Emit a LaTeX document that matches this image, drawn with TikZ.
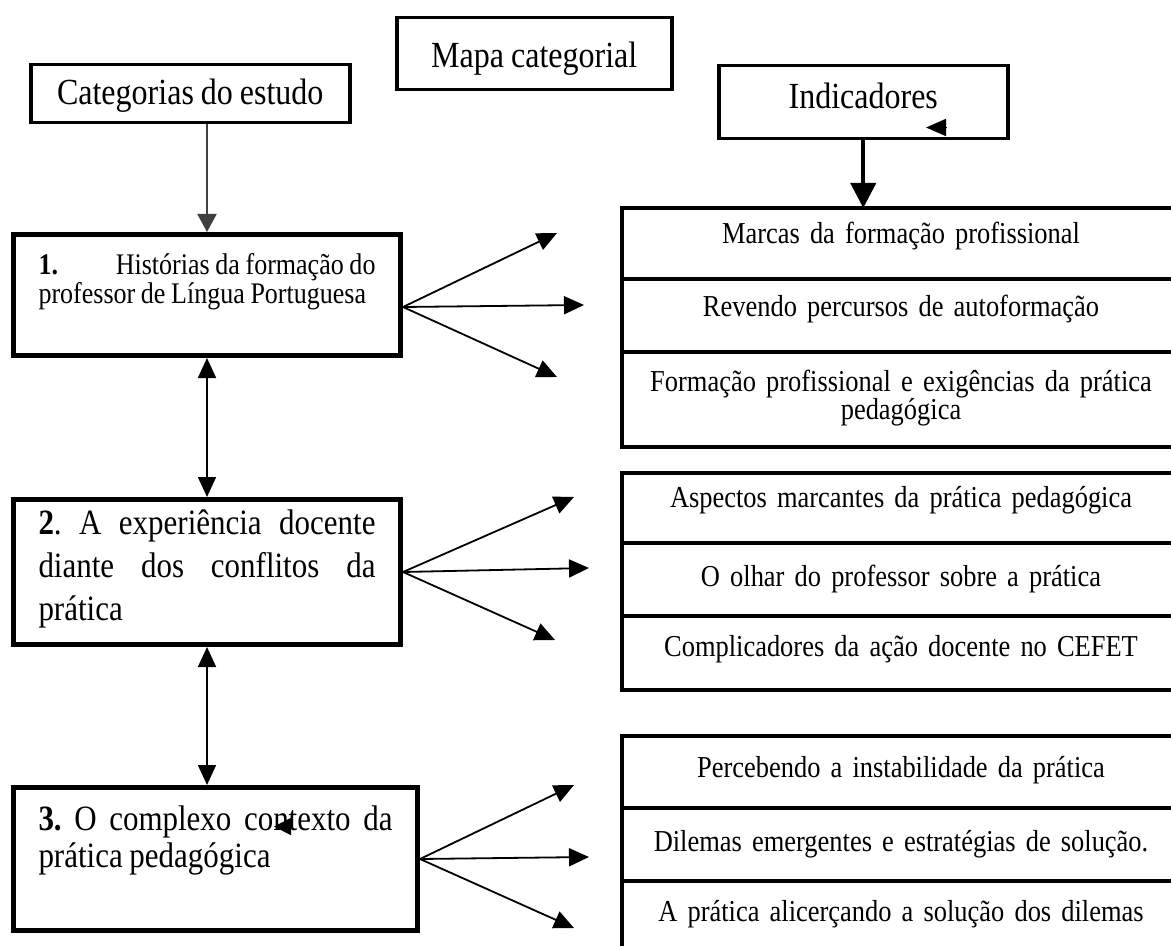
\documentclass[tikz,border=0pt]{standalone}
\usepackage{fontspec}
\setmainfont{Liberation Serif}[FakeStretch=0.87, WordSpace=0.87]
\usetikzlibrary{arrows.meta}
\definecolor{arrowgray}{RGB}{64,64,64}

\tikzset{
  topbox/.style={draw, line width=1.75pt, anchor=north west, inner ysep=0pt, font=\fontsize{18.4}{21}\selectfont},
  catbox/.style={draw, line width=2.5pt, anchor=north west, inner ysep=0pt, inner xsep=12.5pt, align=justify,
    execute at begin node={\frenchspacing\hyphenpenalty=10000 \tolerance=9999 }},
  rowbox/.style={draw, line width=2pt, anchor=north west, inner sep=0pt, outer sep=0pt, minimum width=279pt,
    text width=270pt, align=center, font=\fontsize{15.2}{14}\selectfont},
  thinarrow/.style={line width=0.9pt, -{Triangle[length=10pt,width=9pt]}},
  bothway/.style={line width=0.9pt, {Triangle[length=10pt,width=9pt]}-{Triangle[length=10pt,width=9pt]}},
}

\begin{document}
\begin{tikzpicture}[x=0.5pt, y=-0.5pt]
\useasboundingbox (0,0) rectangle (1171,946);
\clip (0,0) rectangle (1171,946);

% heads
\node [topbox, minimum width=137.5pt, text height=25pt, text depth=11pt] (mapa) at (395,16) {Mapa categorial};
\node [topbox, minimum width=159.5pt, text height=20pt, text depth=9pt] (catest) at (29,63) {Categorias do estudo};
\node [topbox, minimum width=144.5pt, text height=21.5pt, text depth=15pt] (ind) at (717,64) {Indicadores};

% categories
\node [catbox, text width=168.5pt, text height=20pt, text depth=40.5pt, font=\fontsize{14.95}{13.5}\selectfont] (cat1) at (11,232)
{\textbf{1.}\hfill Histórias da formação do\\ professor de Língua Portuguesa};
\node [catbox, text width=168.5pt, text height=17.5pt, text depth=55pt, font=\fontsize{17.8}{21.5}\selectfont] (cat2) at (11,497)
{\textbf{2}. A experiência docente diante dos conflitos da prática};
\node [catbox, text width=177pt, text height=21.5pt, text depth=50pt, font=\fontsize{17.8}{18.5}\selectfont] (cat3) at (11,785)
{\textbf{3.} O complexo contexto da prática pedagógica};

% indicators
\node [rowbox, text height=18pt, text depth=17.5pt] (r11) at (622,208) {Marcas da formação profissional};
\node [rowbox, text height=19pt, text depth=17.5pt] (r12) at (r11.south west) {Revendo percursos de autoformação};
\node [rowbox, text height=19.5pt, text depth=28pt] (r13) at (r12.south west) {Formação profissional e exigências da prática\\ pedagógica};

\node [rowbox, text height=17pt, text depth=18pt] (r21) at (622,473) {Aspectos marcantes da prática pedagógica};
\node [rowbox, text height=21.5pt, text depth=15pt] (r22) at (r21.south west) {O olhar do professor sobre a prática};
\node [rowbox, text height=20pt, text depth=17pt] (r23) at (r22.south west) {Complicadores da ação docente no CEFET};

\node [rowbox, text height=20.5pt, text depth=15.5pt] (r31) at (622,736) {Percebendo a instabilidade da prática};
\node [rowbox, text height=21.5pt, text depth=15pt] (r32) at (r31.south west) {Dilemas emergentes e estratégias de solução.};
\node [rowbox, text height=20pt, text depth=22pt] (r33) at (r32.south west) {A prática alicerçando a solução dos dilemas};

% vertical links
\draw [line width=1pt, arrowgray, -{Triangle[length=9pt,width=9.5pt]}] (catest.south -| cat1.north) -- (cat1.north);
\draw [line width=2pt, -{Triangle[length=12.5pt,width=12.5pt]}] (ind.south) -- (ind.south |- r11.north);
\draw [bothway] (cat1.south) -- (cat2.north);
\draw [bothway] (cat2.south) -- (cat2.south |- cat3.north);

% fans towards the indicators
\coordinate (o1) at ([yshift=-6pt]cat1.east);
\coordinate (t1a) at (557,233);
\coordinate (t1b) at (584,305);
\coordinate (t1c) at (557,377);
\coordinate (t2a) at (574,497);
\coordinate (t2b) at (589,568);
\coordinate (t2c) at (555,640);
\coordinate (t3a) at (574,785);
\coordinate (t3b) at (589,857);
\coordinate (t3c) at (574,928);
\foreach \n in {a,b,c} {
  \draw [thinarrow] (o1) -- (t1\n);
  \draw [thinarrow] (cat2.east) -- (t2\n);
  \draw [thinarrow] (cat3.east) -- (t3\n);
}

% loose arrow heads
\coordinate (s1) at (946,127.5);
\coordinate (s1tip) at (926,127.5);
\coordinate (s2) at (291,826.5);
\coordinate (s2tip) at (274,826.5);
\draw [line width=0.9pt, -{Triangle[length=10pt,width=8.5pt]}] (s1) -- (s1tip);
\draw [line width=0.9pt, -{Triangle[length=8.5pt,width=8.5pt]}] (s2) -- (s2tip);
\end{tikzpicture}
\end{document}
